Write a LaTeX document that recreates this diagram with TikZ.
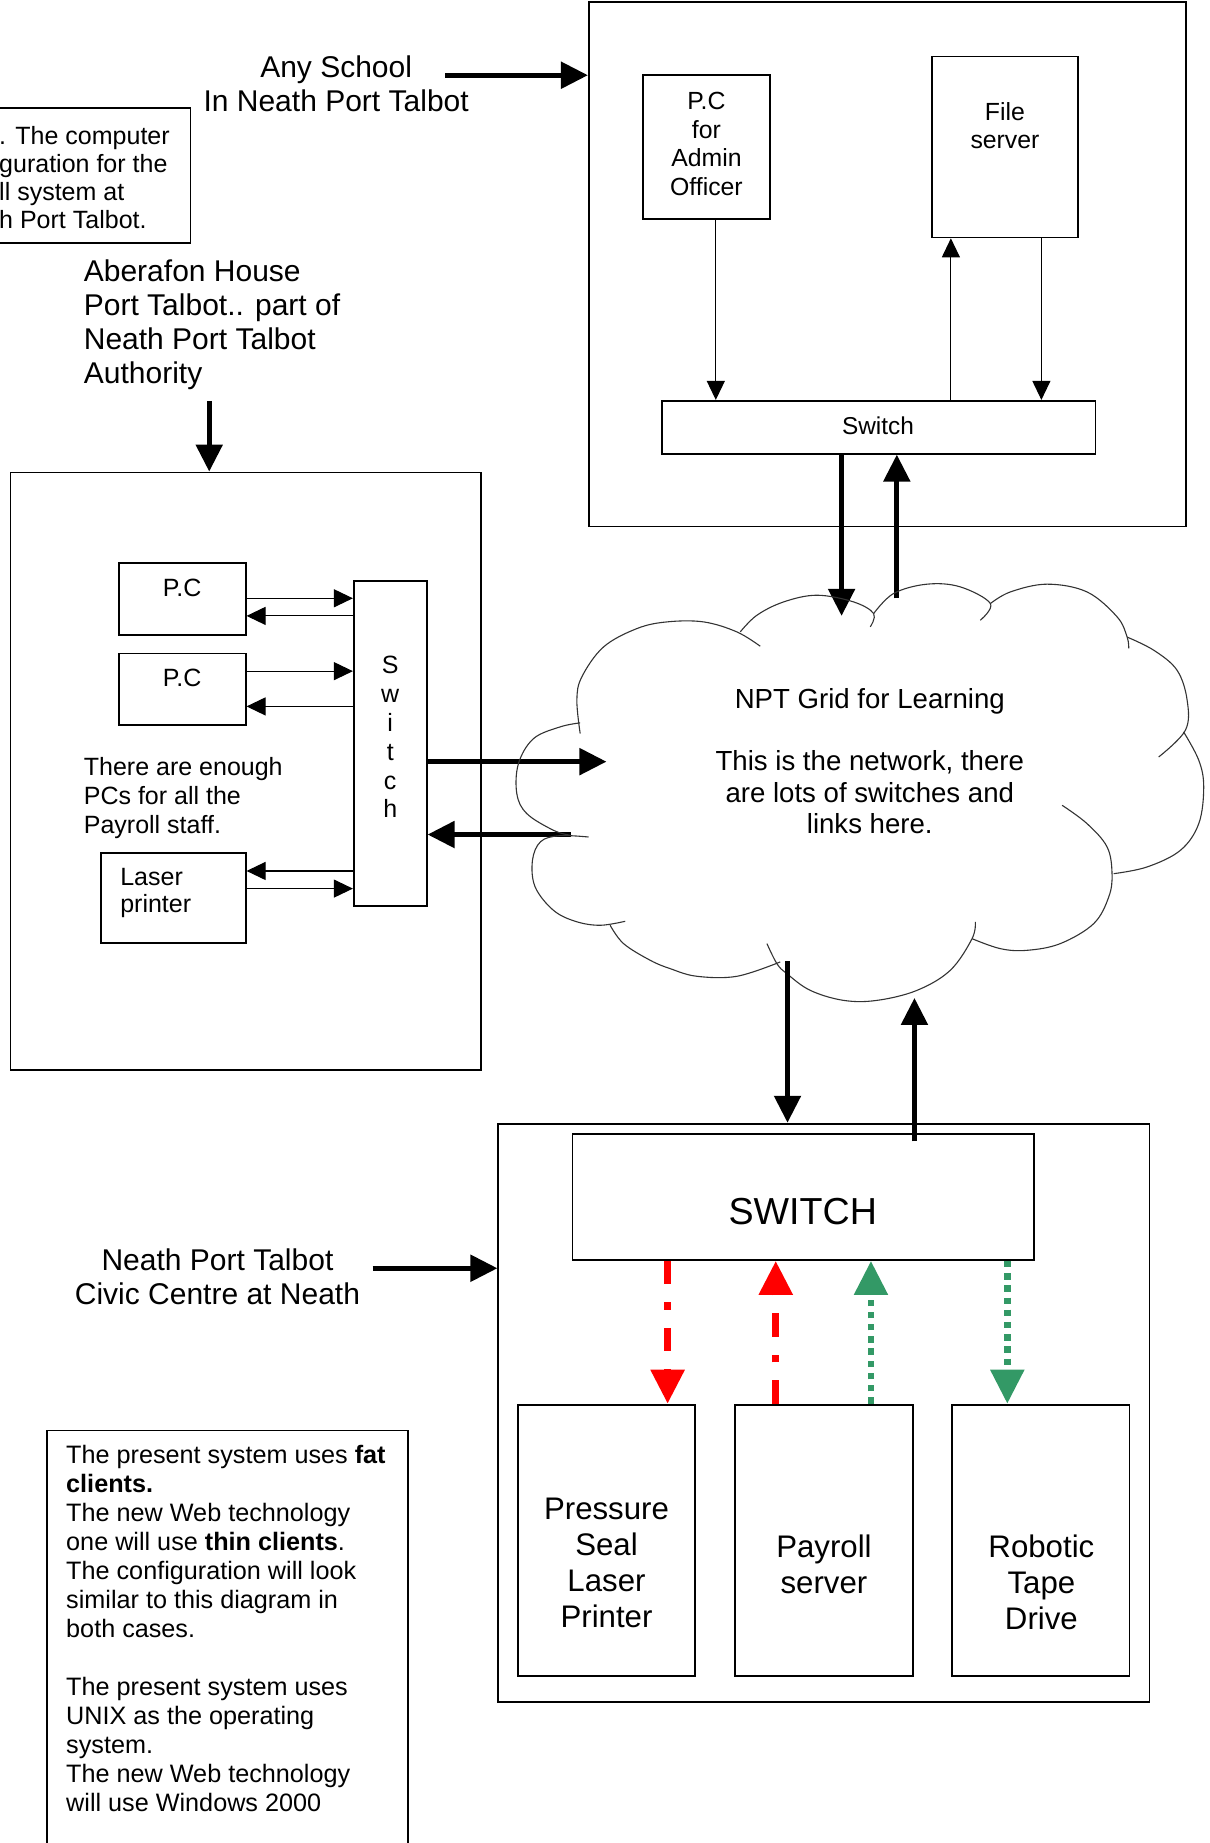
\documentclass[tikz,border=0pt]{standalone}
\usepackage{fontspec}
\setmainfont{Liberation Sans}
\usetikzlibrary{arrows.meta,fit}
\definecolor{npred}{RGB}{255,0,0}
\definecolor{npgreen}{RGB}{51,153,102}
\newcommand{\fsz}[2]{\fontsize{#1}{#2}\selectfont}
\begin{document}
\begin{tikzpicture}[x=0.5875pt,y=-0.5875pt,
  box/.style={draw,line width=0.9pt,inner sep=0pt},
  lbl/.style={inner sep=0pt,align=center},
  thinarr/.style={line width=0.55pt,-{Triangle[length=9.5pt,width=9pt]}},
  thickarr/.style={line width=2.6pt,-{Triangle[length=13.5pt,width=13pt]}},
  cloudline/.style={draw=black!80,line width=0.55pt},
  redarr/.style={color=npred,line width=3.5pt,dash pattern=on 11.7pt off 9pt on 3.7pt off 9pt,-{Triangle[length=17pt,width=16.3pt]}},
  greenarr/.style={color=npgreen,line width=3.3pt,dash pattern=on 3.2pt off 2.9pt,-{Triangle[length=17pt,width=16.3pt]}}]
\useasboundingbox (0,0) rectangle (1029,1568);
\clip (0,0) rectangle (1029,1568);

% ---- top-left note (cut by the page edge)
\node[box, fit={(-30,92) (162,207)}] (note1) {};
\node[lbl, align=left, anchor=west, font=\fsz{12.5}{14.1}] (note1t) at (-1,151) {. The computer\\guration for the\\ll system at\\h Port Talbot.};

% ---- Any School
\node[lbl, font=\fsz{15}{17}] (anyschool) at (286,71) {Any School\\In Neath Port Talbot};
\node[box, fit={(501,2) (1009,448)}] (school) {};
\coordinate (asA) at (379,64);
\draw[thickarr] (asA) -- (school.west |- asA);

\node[box, fit={(547,64) (655,186)}] (pcadmin) {};
\node[lbl, font=\fsz{12.4}{14.3}] (pcadmint) at (601,122.5) {P.C\\for\\Admin\\Officer};
\node[box, fit={(793,48) (917,202)}] (filesrv) {};
\node[lbl, font=\fsz{12.4}{14.3}] (filesrvt) at (855,107) {File\\server};
\node[box, fit={(563,341) (932,386)}] (swtop) {};
\node[lbl, font=\fsz{12.2}{14}] (swtopt) at (747,362) {Switch};

\draw[thinarr] (pcadmin.south -| 609,0) -- (swtop.north -| 609,0);
\draw[thinarr] (swtop.north -| 809,0) -- (filesrv.south -| 809,0);
\draw[thinarr] (filesrv.south -| 886,0) -- (swtop.north -| 886,0);

\coordinate (cTopIn) at (716,524);
\coordinate (cTopOut) at (763,509);
\draw[thickarr] (swtop.south -| cTopIn) -- (cTopIn);
\draw[thickarr] (cTopOut) -- (swtop.south -| cTopOut);

% ---- Aberafon House
\node[lbl, align=left, anchor=west, font=\fsz{15}{17}] (abera) at (71,276) {Aberafon House\\Port Talbot.. part of\\Neath Port Talbot\\Authority};
\node[box, fit={(9,402) (409,910)}] (leftbox) {};
\coordinate (aberA) at (178,341);
\draw[thickarr] (aberA) -- (leftbox.north -| aberA);

\node[box, fit={(101,479) (209,540)}] (pc1) {};
\node[lbl, font=\fsz{12.5}{14.5}] (pc1t) at (155,500) {P.C};
\node[box, fit={(101,556) (209,617)}] (pc2) {};
\node[lbl, font=\fsz{12.5}{14.5}] (pc2t) at (155,577) {P.C};
\node[box, fit={(301,494) (363,771)}] (swv) {};
\node[lbl, font=\fsz{12.5}{14.45}] (swvt) at (332,627) {S\\w\\i\\t\\c\\h};
\node[lbl, align=left, anchor=west, font=\fsz{12.5}{14.7}] (enough) at (71,679) {There are enough\\PCs for all the\\Payroll staff.};
\node[box, fit={(86,726) (209,802)}] (laser) {};
\node[lbl, align=left, anchor=west, font=\fsz{12.5}{13.6}] (lasert) at (102,759.5) {Laser\\printer};

\draw[thinarr] (pc1.east |- 0,509) -- (swv.west |- 0,509);
\draw[thinarr] (swv.west |- 0,524) -- (pc1.east |- 0,524);
\draw[thinarr] (pc2.east |- 0,571) -- (swv.west |- 0,571);
\draw[thinarr] (swv.west |- 0,601) -- (pc2.east |- 0,601);
\draw[thinarr] (swv.west |- 0,741) -- (laser.east |- 0,741);
\draw[thinarr] (laser.east |- 0,756) -- (swv.west |- 0,756);

\coordinate (cLin) at (516,648);
\coordinate (cLout) at (486,710);
\draw[thickarr] (swv.east |- cLin) -- (cLin);
\draw[thickarr] (cLout) -- (swv.east |- cLout);

% ---- cloud
\draw[cloudline] plot[smooth,tension=0.6] coordinates {(493.6,624.1) (490.8,595.7) (495,575.9) (513.5,550.4) (541.8,534.8) (567.4,529.1) (598.6,529.1) (626.9,537.6) (646.8,549.8)};
\draw[cloudline] plot[smooth,tension=0.6] coordinates {(629.8,537.6) (644,523.4) (666.7,512.1) (695,506.4) (726.2,512.1) (743.3,522) (740.4,533.3)};
\draw[cloudline] plot[smooth,tension=0.6] coordinates {(743.3,522) (760.3,504.9) (788.7,497) (817,499.3) (842.6,513.5) (834,527.7)};
\draw[cloudline] plot[smooth,tension=0.6] coordinates {(842.6,513.5) (859.6,503.6) (890.8,497) (924.8,503.6) (950.4,524.8) (958.9,541.8) (960.3,551.7)};
\draw[cloudline] plot[smooth,tension=0.6] coordinates {(958.9,542) (981.6,553.2) (1001.4,570.2) (1010,595.7) (1008.5,621.3) (985.8,644)};
\draw[cloudline] plot[smooth,tension=0.6] coordinates {(1007,622.7) (1019.9,646.8) (1024.1,669.5) (1019.9,700.7) (1004.3,723.4) (975.9,737.6) (947.5,743.3)};
\draw[cloudline] plot[smooth,tension=0.6] coordinates {(903.6,685.1) (924.8,700.7) (941.9,720.6) (946.1,743.3) (943.3,763.1) (930.5,785.8) (902.1,802.8) (873.8,808.5) (851.1,807.1) (827,798.6)};
\draw[cloudline] plot[smooth,tension=0.6] coordinates {(829.8,784.4) (827,798.6) (808.5,825.5) (780.1,842.6) (746.1,851.1) (717.7,851.1) (689.4,842.6) (669.5,828.4) (661,819.9) (652.5,802.8)};
\draw[cloudline] plot[smooth,tension=0.6] coordinates {(519.1,787.2) (530.5,802.8) (553.2,817) (570.2,824.1) (592.9,830.6) (627,830.6) (663.8,818.4)};
\draw[cloudline] plot[smooth,tension=0.6] coordinates {(500.7,712.1) (476,711) (460,716) (453,732) (455.3,754.6) (470.9,774.5) (490,784) (510.6,787.2) (531.9,783.8)};
\draw[cloudline] plot[smooth,tension=0.6] coordinates {(493.6,615) (476.6,618.4) (453.9,628.4) (441.1,649.6) (439.7,675.2) (448.2,692.2) (470.9,706.4) (485.1,710.6)};
\node[lbl, font=\fsz{13.8}{15.7}] (npt) at (740,647.5) {NPT Grid for Learning\\[15.7pt]This is the network, there\\are lots of switches and\\links here.};

% ---- Civic Centre
\node[lbl, font=\fsz{15}{17}] (civic) at (185,1086.5) {Neath Port Talbot\\Civic Centre at Neath};
\node[box, fit={(424,956) (978,1448)}] (civbox) {};
\coordinate (civA) at (317,1079);
\draw[thickarr] (civA) -- (civbox.west |- civA);
\node[box, fit={(487,965) (880,1072)}] (swb) {};
\node[lbl, font=\fsz{18.8}{21}] (swbt) at (683,1031) {SWITCH};
\coordinate (cBin) at (670,818);
\coordinate (cBout) at (778,849);
\coordinate (swbUp) at (778,971);
\draw[thickarr] (cBin) -- (civbox.north -| cBin);
\draw[thickarr] (swbUp) -- (cBout);

\node[box, fit={(441,1195) (591,1426)}] (press) {};
\node[lbl, font=\fsz{15.6}{18}] (presst) at (516,1330) {Pressure\\Seal\\Laser\\Printer};
\node[box, fit={(625,1195) (777,1426)}] (pay) {};
\node[lbl, font=\fsz{15.6}{18}] (payt) at (701,1331) {Payroll\\server};
\node[box, fit={(810,1195) (961,1426)}] (robot) {};
\node[lbl, font=\fsz{15.6}{18}] (robott) at (886,1346) {Robotic\\Tape\\Drive};

\draw[redarr] (swb.south -| 568,0) -- (press.north -| 568,0);
\draw[redarr] (pay.north -| 660,0) -- (swb.south -| 660,0);
\draw[greenarr] (pay.north -| 741,0) -- (swb.south -| 741,0);
\draw[greenarr] (swb.south -| 857,0) -- (robot.north -| 857,0);

% ---- bottom-left note (cut by the page edge)
\node[box, fit={(40,1217) (347,1620)}] (note2) {};
\node[lbl, align=left, anchor=north west, font=\fsz{12.6}{14.5}] (note2t) at (56,1229) {The present system uses \textbf{fat}\\\textbf{clients.}\\The new Web technology\\one will use \textbf{thin clients}.\\The configuration will look\\similar to this diagram in\\both cases.\\[14.5pt]The present system uses\\UNIX as the operating\\system.\\The new Web technology\\will use Windows 2000};
\end{tikzpicture}
\end{document}
